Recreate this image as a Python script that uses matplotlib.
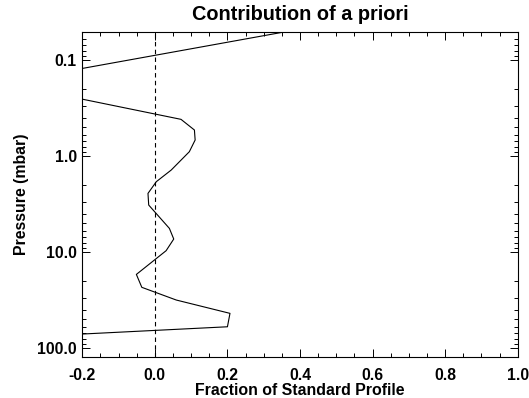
import matplotlib
matplotlib.use("Agg")
import matplotlib.pyplot as plt
from matplotlib.ticker import FixedLocator, LogLocator, MultipleLocator, NullFormatter

# profile (fraction, pressure in mbar)
fraction = [0.355, -0.42, 0.072, 0.109, 0.111, 0.095, 0.045, 0.004, -0.019, -0.017,
            0.040, 0.052, 0.031, -0.051, -0.036, 0.059, 0.207, 0.200, -0.6]
pressure = [0.0512, 0.173, 0.415, 0.536, 0.681, 0.902, 1.40, 1.85, 2.45, 3.24,
            5.67, 7.32, 9.68, 17.1, 23.3, 31.6, 43.5, 60.0, 85.0]

x_ticks = [-0.2, 0.0, 0.2, 0.4, 0.6, 0.8, 1.0]
y_ticks = [0.1, 1.0, 10.0, 100.0]
y_labels = ["0.1", "1.0", "10.0", "100.0"]

plt.rcParams["font.family"] = ["Liberation Sans", "DejaVu Sans"]
plt.rcParams["font.weight"] = "bold"

fig = plt.figure(figsize=(5.29, 3.98), dpi=100)
ax = fig.add_axes([0.1556, 0.104, 0.823, 0.815])

ax.plot(fraction, pressure, color="black", lw=0.8)
ax.axvline(0.0, color="black", lw=0.8, ls=(0, (4, 3)))

ax.set_yscale("log")
ax.set_xlim(-0.2, 1.0)
ax.set_ylim(122.7, 0.0514)

ax.xaxis.set_major_locator(FixedLocator(x_ticks))
ax.xaxis.set_minor_locator(MultipleLocator(0.05))
ax.set_xticklabels([f"{v:.1f}" for v in x_ticks])
ax.yaxis.set_major_locator(FixedLocator(y_ticks))
ax.yaxis.set_minor_locator(LogLocator(base=10, subs=range(2, 10)))
ax.yaxis.set_minor_formatter(NullFormatter())
ax.set_yticklabels(y_labels)

ax.tick_params(which="both", direction="in", top=True, right=True,
               labelsize=11.3, width=0.7)
ax.tick_params(axis="x", pad=8)
ax.tick_params(axis="y", pad=4)
ax.tick_params(which="major", length=6)
ax.tick_params(which="minor", length=3)
for s in ax.spines.values():
    s.set_linewidth(0.8)

ax.set_title("Contribution of a priori", fontsize=14.3, fontweight="bold", pad=9)
ax.set_xlabel("Fraction of Standard Profile", fontsize=11.4, fontweight="bold", labelpad=0)
ax.set_ylabel("Pressure (mbar)", fontsize=11.4, fontweight="bold", labelpad=6)

fig.savefig("out.png", dpi=100)
